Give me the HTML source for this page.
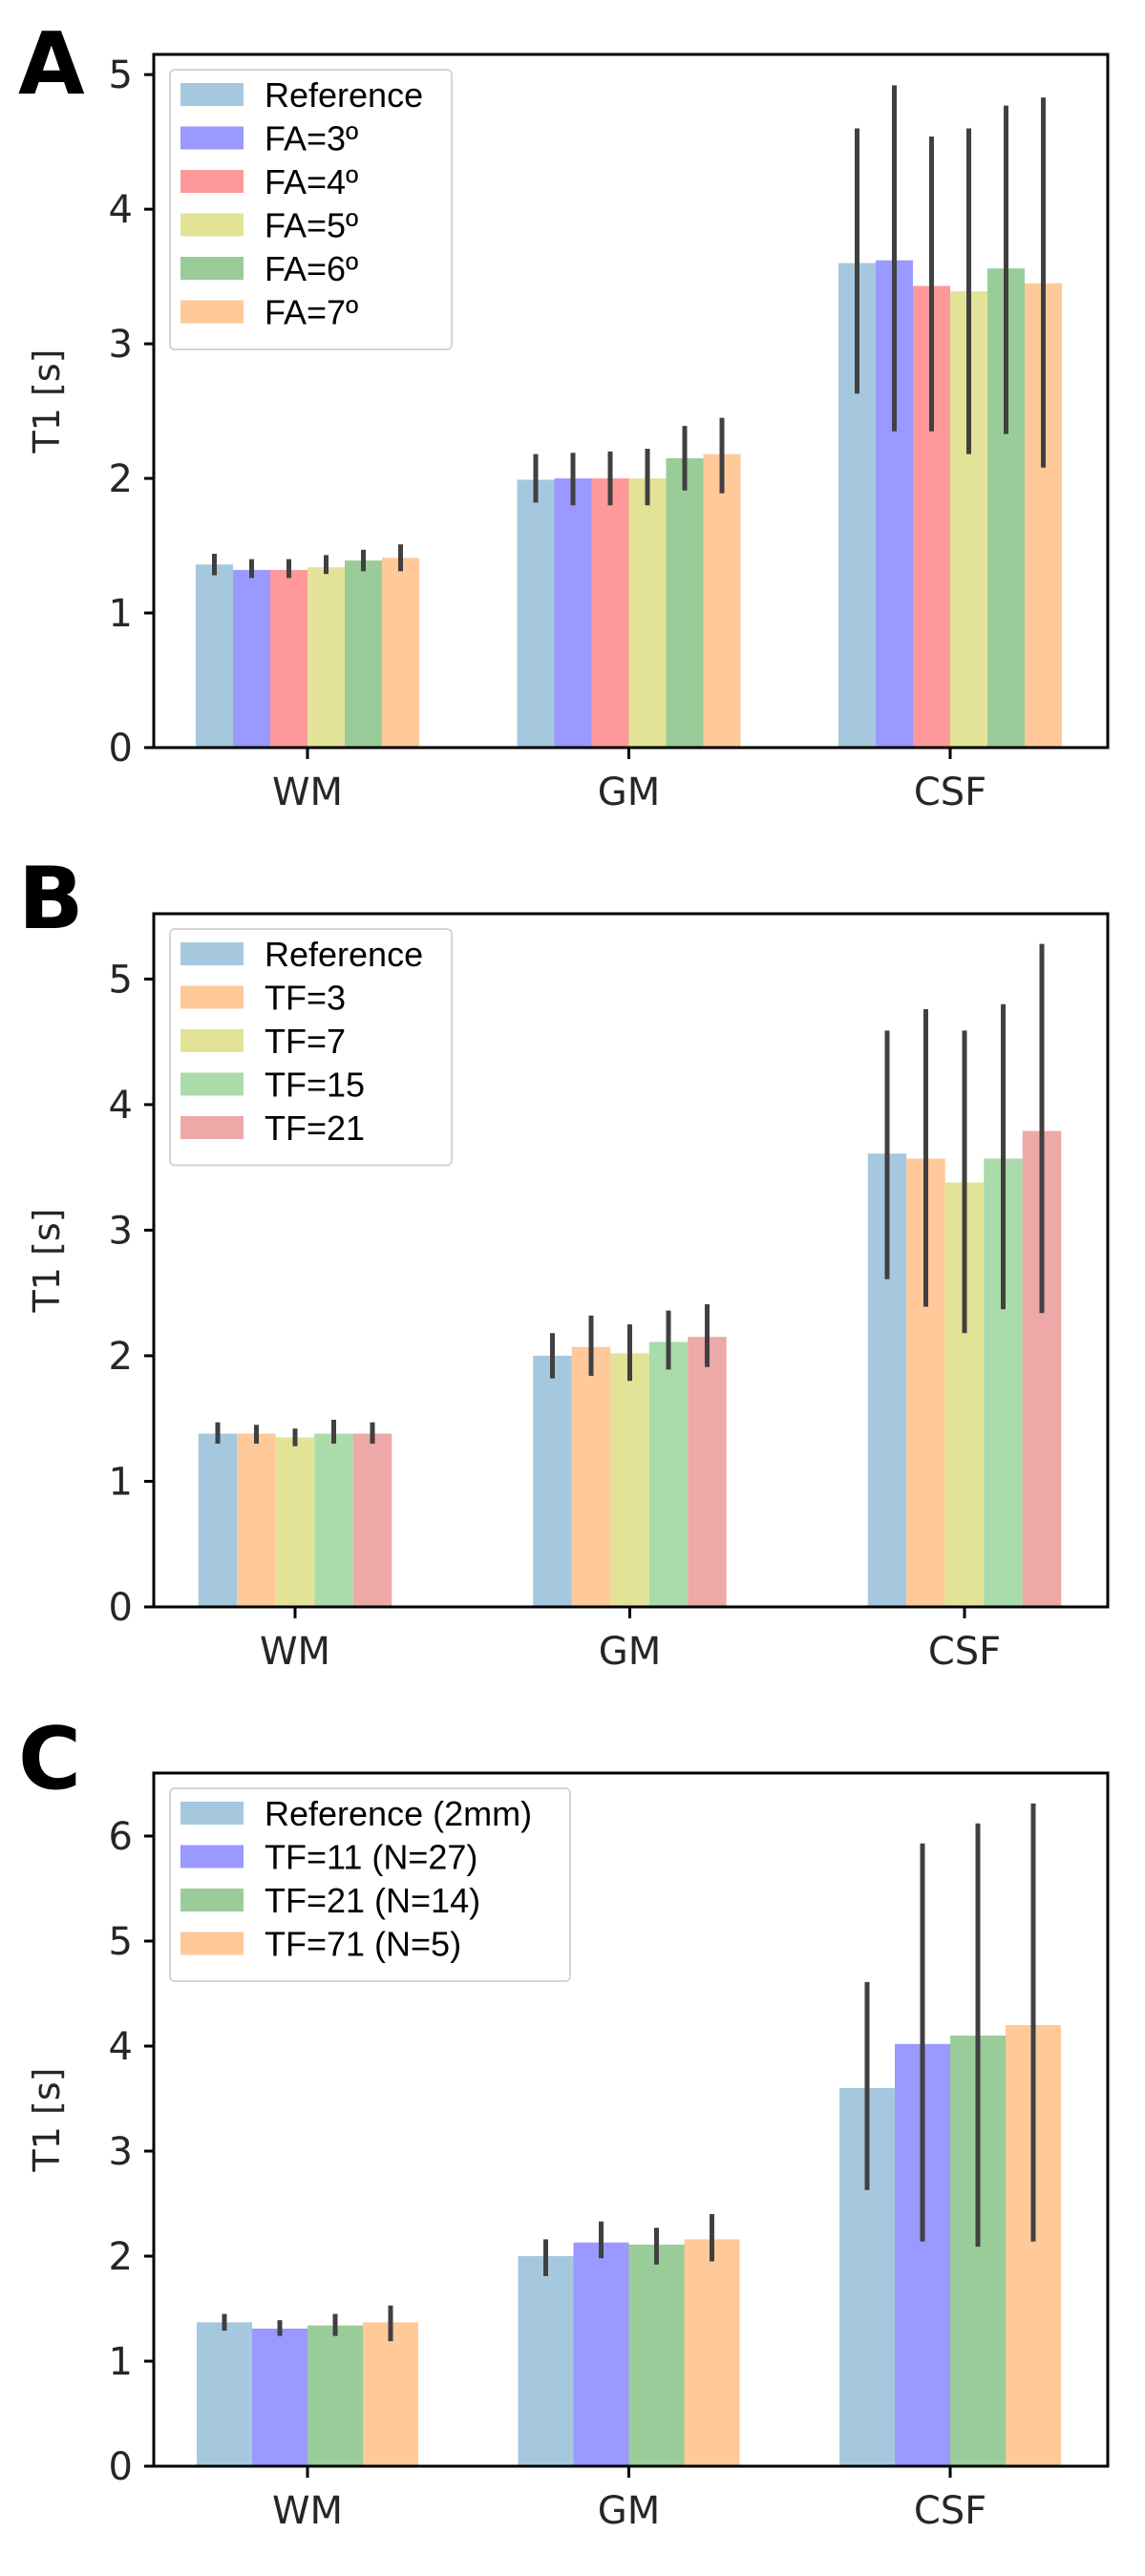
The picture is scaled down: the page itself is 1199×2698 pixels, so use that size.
<!DOCTYPE html>
<html><head><meta charset="utf-8">
<style>
html,body{margin:0;padding:0;background:#fff;}
svg{display:block;}
text{font-family:"DejaVu Sans","Liberation Sans",sans-serif;fill:#262626;}
.leg{font-family:"Liberation Sans",sans-serif;font-size:36px;fill:#000;}
.letter{font-family:"DejaVu Sans",sans-serif;font-weight:bold;font-size:90px;fill:#000;}
</style></head>
<body>
<svg id="fig" width="1199" height="2698" viewBox="0 0 1199 2698" xmlns="http://www.w3.org/2000/svg"></svg>
<script>
const categories = ["WM","GM","CSF"];
// Panel A
const aLabels = ["Reference","FA=3º","FA=4º","FA=5º","FA=6º","FA=7º"];
const aColors = ["#a6c8df","#9999ff","#ff9999","#e2e397","#99cc99","#ffc999"];
const aMeans = [[1.36,1.99,3.60],[1.32,2.00,3.62],[1.32,2.00,3.43],[1.34,2.00,3.39],[1.39,2.15,3.56],[1.41,2.18,3.45]];
const aHi = [[1.44,2.18,4.60],[1.40,2.19,4.92],[1.40,2.20,4.54],[1.43,2.22,4.60],[1.47,2.39,4.77],[1.51,2.45,4.83]];
const aLo = [[1.28,1.82,2.63],[1.26,1.80,2.35],[1.26,1.80,2.35],[1.29,1.80,2.18],[1.31,1.91,2.33],[1.31,1.89,2.08]];
const aTicks = [0,1,2,3,4,5];
// Panel B
const bLabels = ["Reference","TF=3","TF=7","TF=15","TF=21"];
const bColors = ["#a6c8df","#ffc999","#e2e397","#aadbaa","#eda8a8"];
const bMeans = [[1.38,2.00,3.61],[1.38,2.07,3.57],[1.35,2.02,3.38],[1.38,2.11,3.57],[1.38,2.15,3.79]];
const bHi = [[1.47,2.18,4.59],[1.45,2.32,4.76],[1.42,2.25,4.59],[1.49,2.36,4.80],[1.47,2.41,5.28]];
const bLo = [[1.30,1.82,2.61],[1.30,1.84,2.39],[1.28,1.80,2.18],[1.30,1.89,2.37],[1.30,1.91,2.34]];
const bTicks = [0,1,2,3,4,5];
// Panel C
const cLabels = ["Reference (2mm)","TF=11 (N=27)","TF=21 (N=14)","TF=71 (N=5)"];
const cColors = ["#a6c8df","#9999ff","#99cc99","#ffc999"];
const cMeans = [[1.37,2.00,3.60],[1.31,2.13,4.02],[1.34,2.11,4.10],[1.37,2.16,4.20]];
const cHi = [[1.45,2.16,4.61],[1.39,2.33,5.93],[1.45,2.27,6.12],[1.53,2.40,6.31]];
const cLo = [[1.29,1.81,2.63],[1.24,1.98,2.14],[1.24,1.92,2.09],[1.19,1.95,2.14]];
const cTicks = [0,1,2,3,4,5,6];

const NS="http://www.w3.org/2000/svg";
const svg=document.getElementById('fig');
function mk(tag,attrs,parent,txt){const e=document.createElementNS(NS,tag);for(const k in attrs)e.setAttribute(k,attrs[k]);if(txt!==undefined)e.textContent=txt;(parent||svg).appendChild(e);return e;}

function panel(cfg){
  const g=mk('g',{});
  
  
  const L=161,R=1160,T=cfg.top,B=cfg.bottom;
  const y=v=>B-(v/cfg.ymax)*(B-T);
  const x=c=>cfg.x0+c*cfg.dx;
  const n=cfg.labels.length;
  const lt=mk('text',{x:19,y:cfg.letterY,class:'letter'},g,cfg.id);
  
  
  // bars
  for(let s=0;s<n;s++){
    for(let c=0;c<categories.length;c++){
      const cx=x(c)+(s-(n-1)/2)*cfg.w;
      const r=mk('rect',{x:cx-cfg.w/2,y:y(cfg.means[s][c]),width:cfg.w,height:B-y(cfg.means[s][c]),fill:cfg.colors[s]},g);
      
      
    }
  }
  for(let s=0;s<n;s++){
    for(let c=0;c<categories.length;c++){
      const cx=x(c)+(s-(n-1)/2)*cfg.w;
      const e=mk('line',{x1:cx,x2:cx,y1:y(cfg.hi[s][c]),y2:y(cfg.lo[s][c]),stroke:'#404040','stroke-width':5},g);
      
      
    }
  }
  // frame
  const f=mk('rect',{x:L,y:T,width:R-L,height:B-T,fill:'none',stroke:'#000','stroke-width':3},g);
  
  
  cfg.ticks.forEach(t=>{
    mk('line',{x1:L-10,x2:L,y1:y(t),y2:y(t),stroke:'#000','stroke-width':3},g);
    const tl=mk('text',{x:L-22,y:y(t)+14,'text-anchor':'end','font-size':40},g,String(t));
    
    
  });
  categories.forEach((cat,c)=>{
    mk('line',{x1:x(c),x2:x(c),y1:B,y2:B+12,stroke:'#000','stroke-width':3},g);
    const tl=mk('text',{x:x(c),y:B+60,'text-anchor':'middle','font-size':40},g,cat);
    
    
  });
  const yl=mk('text',{x:0,y:0,'text-anchor':'middle','font-size':38,transform:`translate(${cfg.ylabX},${(T+B)/2}) rotate(-90)`},g,'T1 [s]');
  
  
  // legend
  const lg=mk('g',{},g);
  
  
  mk('rect',{x:178,y:T+16,width:cfg.legW,height:n*45.5+20,rx:5,fill:'#fff','fill-opacity':0.85,stroke:'#d5d5d5','stroke-width':2},lg);
  for(let s=0;s<n;s++){
    const ry=T+30+s*45.5;
    const en=mk('g',{},lg);
    
    
    mk('rect',{x:189,y:ry,width:66,height:24,fill:cfg.colors[s]},en);
    mk('text',{x:277,y:ry+25,class:'leg'},en,cfg.labels[s]);
  }
}
panel({id:'A',top:57,bottom:783,ymax:5.15,x0:322,dx:336.5,w:39,labels:aLabels,colors:aColors,means:aMeans,hi:aHi,lo:aLo,ticks:aTicks,letterY:98,ylabX:62,legW:295});
panel({id:'B',top:957,bottom:1683,ymax:5.52,x0:309,dx:350.5,w:40.5,labels:bLabels,colors:bColors,means:bMeans,hi:bHi,lo:bLo,ticks:bTicks,letterY:972,ylabX:62,legW:295});
panel({id:'C',top:1857,bottom:2583,ymax:6.6,x0:322,dx:336.5,w:58,labels:cLabels,colors:cColors,means:cMeans,hi:cHi,lo:cLo,ticks:cTicks,letterY:1873,ylabX:62,legW:419});
</script>
</body></html>
